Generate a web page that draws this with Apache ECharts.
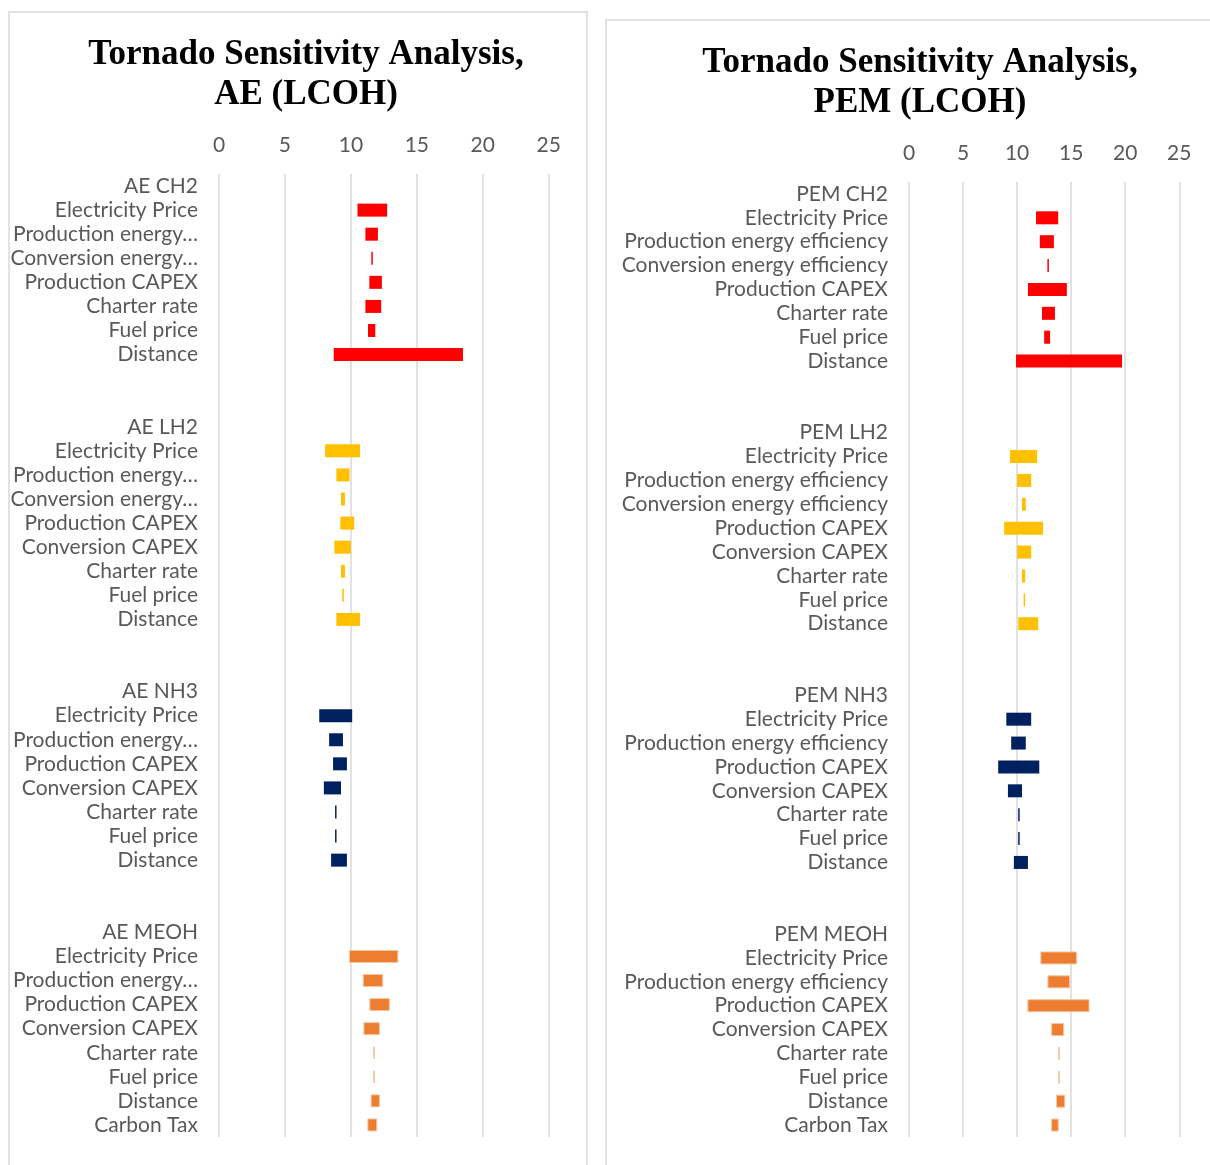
<!DOCTYPE html>
<html>
<head>
<meta charset="utf-8">
<title>Tornado Sensitivity Analysis</title>
<script src="https://cdn.jsdelivr.net/npm/echarts@6/dist/echarts.min.js"></script>
<style>
    html, body { margin: 0; padding: 0; background: #fff; }
    #chart { width: 1210px; height: 1165px; }
</style>
</head>
<body>
<div id="chart"></div>
<script>
// x axis ticks (LCOH)
var xTicks = [0, 5, 10, 15, 20, 25];

// ---- AE (alkaline electrolysis) ----
var aeGroupNames = ['AE CH2', 'AE LH2', 'AE NH3', 'AE MEOH'];

var aeCh2Items = ['Electricity Price', 'Production energy efficiency', 'Conversion energy efficiency', 'Production CAPEX', 'Charter rate', 'Fuel price', 'Distance'];
var aeCh2Low = [10.5, 11.1, 11.55, 11.4, 11.1, 11.3, 8.7];
var aeCh2High = [12.75, 12.05, 11.55, 12.35, 12.3, 11.85, 18.5];

var aeLh2Items = ['Electricity Price', 'Production energy efficiency', 'Conversion energy efficiency', 'Production CAPEX', 'Conversion CAPEX', 'Charter rate', 'Fuel price', 'Distance'];
var aeLh2Low = [8.05, 8.9, 9.25, 9.2, 8.75, 9.25, 9.35, 8.9];
var aeLh2High = [10.7, 9.9, 9.55, 10.25, 10.0, 9.55, 9.35, 10.7];

var aeNh3Items = ['Electricity Price', 'Production energy efficiency', 'Production CAPEX', 'Conversion CAPEX', 'Charter rate', 'Fuel price', 'Distance'];
var aeNh3Low = [7.6, 8.35, 8.65, 7.95, 8.8, 8.8, 8.5];
var aeNh3High = [10.1, 9.4, 9.7, 9.25, 8.8, 8.8, 9.7];

var aeMeohItems = ['Electricity Price', 'Production energy efficiency', 'Production CAPEX', 'Conversion CAPEX', 'Charter rate', 'Fuel price', 'Distance', 'Carbon Tax'];
var aeMeohLow = [9.85, 10.9, 11.4, 10.95, 11.7, 11.7, 11.5, 11.25];
var aeMeohHigh = [13.6, 12.45, 12.95, 12.2, 11.7, 11.7, 12.2, 12.0];

// ---- PEM ----
var pemGroupNames = ['PEM CH2', 'PEM LH2', 'PEM NH3', 'PEM MEOH'];

var pemCh2Items = ['Electricity Price', 'Production energy efficiency', 'Conversion energy efficiency', 'Production CAPEX', 'Charter rate', 'Fuel price', 'Distance'];
var pemCh2Low = [11.75, 12.1, 12.8, 11.0, 12.3, 12.5, 9.9];
var pemCh2High = [13.8, 13.4, 12.8, 14.6, 13.5, 13.05, 19.7];

var pemLh2Items = ['Electricity Price', 'Production energy efficiency', 'Conversion energy efficiency', 'Production CAPEX', 'Conversion CAPEX', 'Charter rate', 'Fuel price', 'Distance'];
var pemLh2Low = [9.35, 10.0, 10.45, 8.8, 10.0, 10.45, 10.6, 10.1];
var pemLh2High = [11.85, 11.3, 10.8, 12.4, 11.3, 10.75, 10.6, 11.95];

var pemNh3Items = ['Electricity Price', 'Production energy efficiency', 'Production CAPEX', 'Conversion CAPEX', 'Charter rate', 'Fuel price', 'Distance'];
var pemNh3Low = [9.0, 9.45, 8.25, 9.15, 10.1, 10.1, 9.7];
var pemNh3High = [11.3, 10.8, 12.05, 10.45, 10.1, 10.1, 11.0];

var pemMeohItems = ['Electricity Price', 'Production energy efficiency', 'Production CAPEX', 'Conversion CAPEX', 'Charter rate', 'Fuel price', 'Distance', 'Carbon Tax'];
var pemMeohLow = [12.15, 12.8, 10.95, 13.15, 13.8, 13.8, 13.6, 13.15];
var pemMeohHigh = [15.55, 14.9, 16.7, 14.35, 13.8, 13.8, 14.45, 13.85];

// group colours: CH2, LH2, NH3, MEOH
var groupColors = ['#ff0000', '#ffc000', '#002060', '#ed7d31'];
var groupBorders = [null, null, null, '#f6c6a2'];

var labelFont = 'Lato, "Open Sans", sans-serif';
var titleFont = '"Liberation Serif", "Times New Roman", serif';

/**
 * 拼接一个面板的分类轴与系列
 * @param groups [{name, items, low, high}]
 * @param axisIdx 面板序号
 */
function buildPanel(groups, axisIdx) {
    var categories = [];
    var rows = [];   // 每组数据行的起始下标
    groups.forEach(function (g, gi) {
        categories.push(g.name);
        rows.push(categories.length);
        g.items.forEach(function (it) { categories.push(it); });
        if (gi < groups.length - 1) {
            categories.push('');
            categories.push('');
        }
    });

    var series = [];
    groups.forEach(function (g, gi) {
        var base = categories.map(function () { return '-'; });
        var span = categories.map(function () { return '-'; });
        g.items.forEach(function (it, k) {
            base[rows[gi] + k] = g.low[k];
            span[rows[gi] + k] = +(g.high[k] - g.low[k]).toFixed(3);
        });
        series.push({
            type: 'bar',
            xAxisIndex: axisIdx,
            yAxisIndex: axisIdx,
            stack: 'panel' + axisIdx,
            barWidth: 13,
            silent: true,
            itemStyle: { color: 'transparent' },
            data: base
        });
        var style = { color: groupColors[gi] };
        if (groupBorders[gi]) {
            style.borderColor = groupBorders[gi];
            style.borderWidth = 1;
        }
        series.push({
            type: 'bar',
            xAxisIndex: axisIdx,
            yAxisIndex: axisIdx,
            stack: 'panel' + axisIdx,
            barWidth: 13,
            barMinHeight: 1.5,
            silent: true,
            itemStyle: style,
            data: span
        });
    });
    return { categories: categories, series: series };
}

function makeXAxis(idx) {
    return {
        type: 'value',
        gridIndex: idx,
        position: 'top',
        min: xTicks[0],
        max: xTicks[xTicks.length - 1],
        interval: xTicks[1] - xTicks[0],
        axisLine: { show: false },
        axisTick: { show: false },
        axisLabel: { color: '#595959', fontSize: 21, fontFamily: labelFont, margin: 18 },
        splitLine: { lineStyle: { color: '#d9d9d9', width: 1.5 } }
    };
}

function makeYAxis(idx, categories, labelWidth) {
    var label = { color: '#595959', fontSize: 21, fontFamily: labelFont, margin: 21, interval: 0 };
    if (labelWidth) {
        label.width = labelWidth;
        label.overflow = 'truncate';
        label.ellipsis = '…';
    }
    return {
        type: 'category',
        gridIndex: idx,
        inverse: true,
        data: categories,
        axisLine: { show: false },
        axisTick: { show: false },
        splitLine: { show: false },
        axisLabel: label
    };
}

var ae = buildPanel([
    { name: aeGroupNames[0], items: aeCh2Items, low: aeCh2Low, high: aeCh2High },
    { name: aeGroupNames[1], items: aeLh2Items, low: aeLh2Low, high: aeLh2High },
    { name: aeGroupNames[2], items: aeNh3Items, low: aeNh3Low, high: aeNh3High },
    { name: aeGroupNames[3], items: aeMeohItems, low: aeMeohLow, high: aeMeohHigh }
], 0);

var pem = buildPanel([
    { name: pemGroupNames[0], items: pemCh2Items, low: pemCh2Low, high: pemCh2High },
    { name: pemGroupNames[1], items: pemLh2Items, low: pemLh2Low, high: pemLh2High },
    { name: pemGroupNames[2], items: pemNh3Items, low: pemNh3Low, high: pemNh3High },
    { name: pemGroupNames[3], items: pemMeohItems, low: pemMeohLow, high: pemMeohHigh }
], 1);

var chart = echarts.init(document.getElementById('chart'), null, { renderer: 'canvas' });

var option = {
    animation: false,
    backgroundColor: '#ffffff',
    graphic: [
        { type: 'rect', silent: true, z: -10, shape: { x: 9, y: 12, width: 578, height: 1170 }, style: { fill: '#fff', stroke: '#d9d9d9', lineWidth: 1.5 } },
        { type: 'rect', silent: true, z: -10, shape: { x: 606, y: 20, width: 620, height: 1170 }, style: { fill: '#fff', stroke: '#d9d9d9', lineWidth: 1.5 } }
    ],
    title: [
        {
            text: 'Tornado Sensitivity Analysis,\nAE (LCOH)',
            left: 301, top: 30, textAlign: 'center',
            textStyle: { fontFamily: titleFont, fontWeight: 'bold', fontSize: 35, lineHeight: 40, color: '#000' }
        },
        {
            text: 'Tornado Sensitivity Analysis,\nPEM (LCOH)',
            left: 915, top: 38, textAlign: 'center',
            textStyle: { fontFamily: titleFont, fontWeight: 'bold', fontSize: 35, lineHeight: 40, color: '#000' }
        }
    ],
    grid: [
        { left: 219, top: 174, width: 329.7, height: 963 },
        { left: 909, top: 182, width: 270.3, height: 955 }
    ],
    xAxis: [makeXAxis(0), makeXAxis(1)],
    yAxis: [makeYAxis(0, ae.categories, 193), makeYAxis(1, pem.categories)],
    series: ae.series.concat(pem.series)
};

chart.setOption(option);
</script>
</body>
</html>
